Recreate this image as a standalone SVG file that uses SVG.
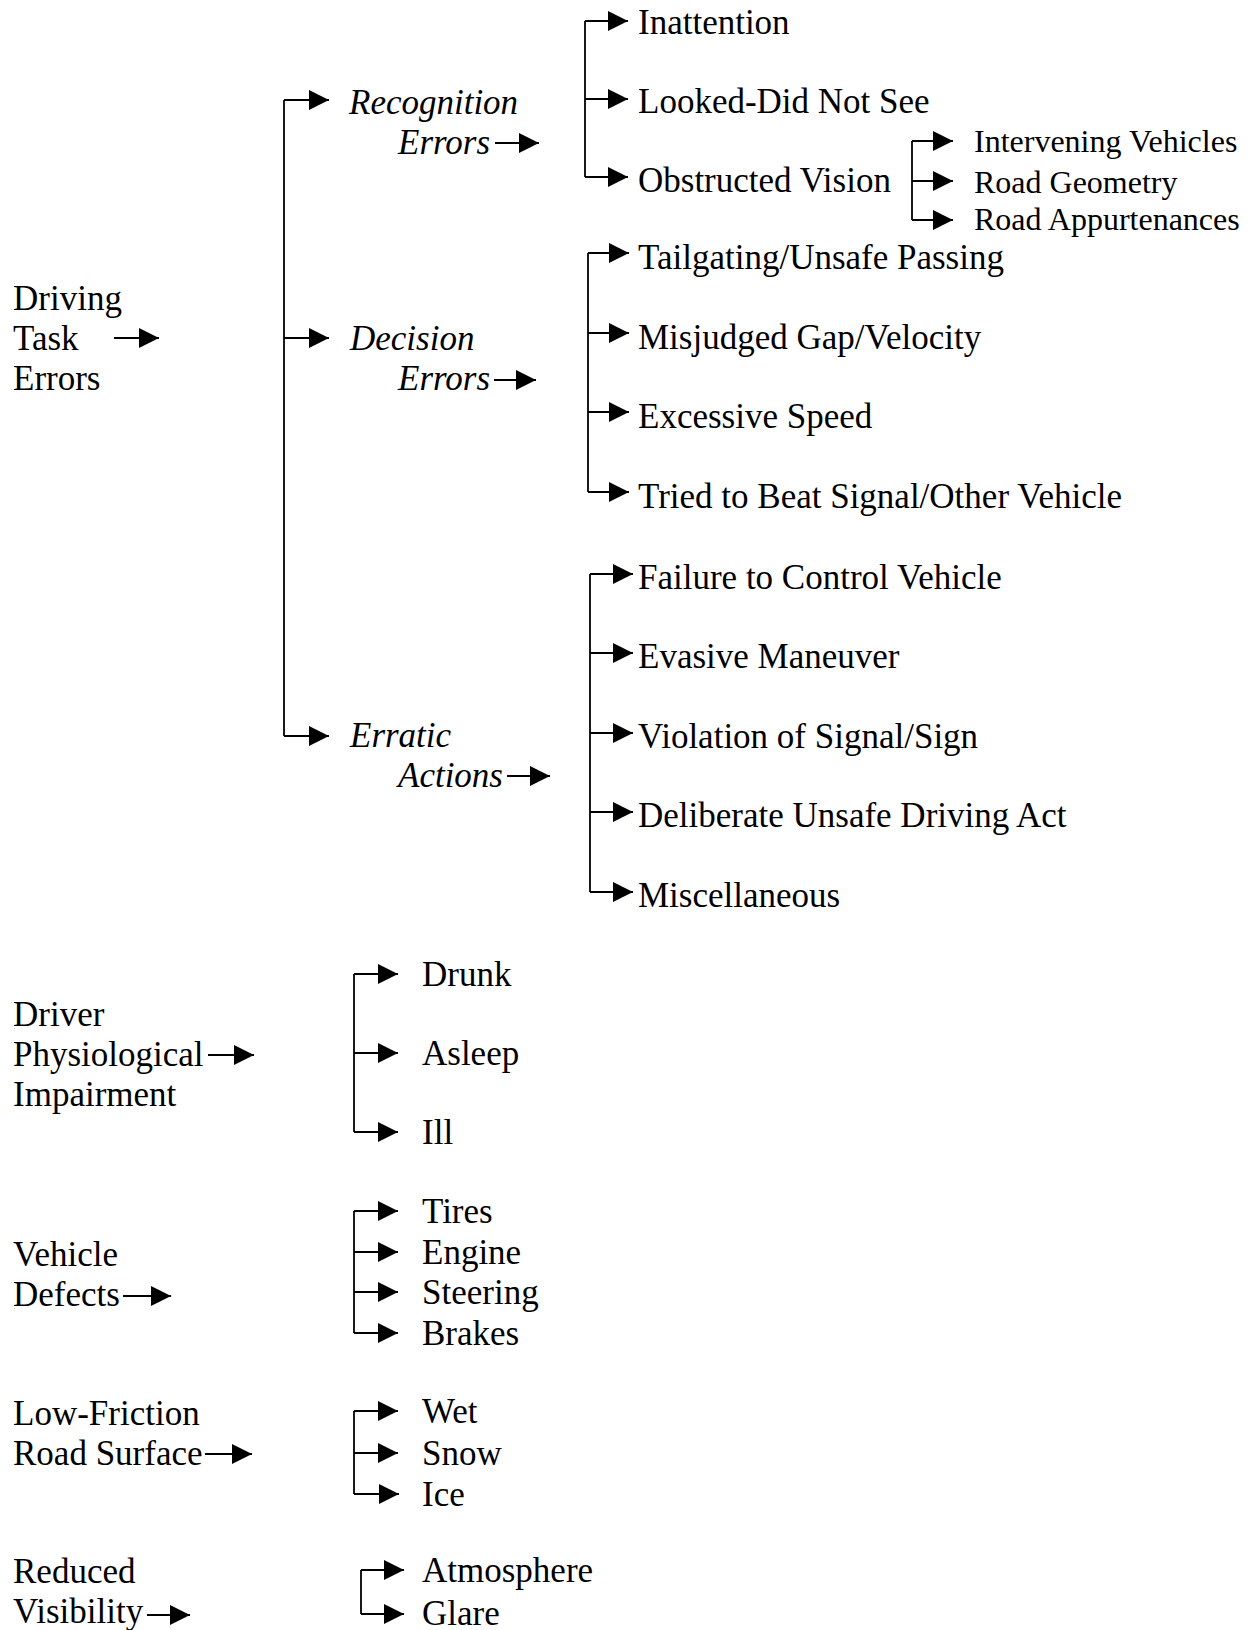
<svg xmlns="http://www.w3.org/2000/svg" width="1254" height="1630" viewBox="0 0 1254 1630">
<style>
text{font-family:"Liberation Serif","Times New Roman",serif;font-size:35px;fill:#000}
.it{font-style:italic}
.sm{font-size:32px}
.c line,.c path{stroke:#000;stroke-width:1.8;fill:none}
</style>
<defs>
<marker id="ah" markerUnits="userSpaceOnUse" markerWidth="21" markerHeight="22" refX="20" refY="11" orient="auto">
<path d="M0,1 L20,11 L0,21 Z" fill="#000"/>
</marker>
</defs>
<rect width="1254" height="1630" fill="#fff"/>
<g id="connectors" class="c">
<line x1="114" y1="338" x2="159" y2="338" marker-end="url(#ah)"/>
<line x1="208" y1="1055" x2="254" y2="1055" marker-end="url(#ah)"/>
<line x1="123" y1="1296" x2="171" y2="1296" marker-end="url(#ah)"/>
<line x1="205" y1="1454" x2="252" y2="1454" marker-end="url(#ah)"/>
<line x1="147" y1="1615" x2="190" y2="1615" marker-end="url(#ah)"/>
<path d="M284,100 V736"/>
<line x1="284" y1="100" x2="329" y2="100" marker-end="url(#ah)"/>
<line x1="284" y1="338" x2="329" y2="338" marker-end="url(#ah)"/>
<line x1="284" y1="736" x2="329" y2="736" marker-end="url(#ah)"/>
<line x1="495" y1="143" x2="539" y2="143" marker-end="url(#ah)"/>
<line x1="494" y1="380" x2="536" y2="380" marker-end="url(#ah)"/>
<line x1="507" y1="776" x2="550" y2="776" marker-end="url(#ah)"/>
<path d="M585,21 V177"/>
<line x1="585" y1="21" x2="628" y2="21" marker-end="url(#ah)"/>
<line x1="585" y1="99" x2="628" y2="99" marker-end="url(#ah)"/>
<line x1="585" y1="177" x2="628" y2="177" marker-end="url(#ah)"/>
<path d="M912,141 V220"/>
<line x1="912" y1="141" x2="953" y2="141" marker-end="url(#ah)"/>
<line x1="912" y1="181" x2="953" y2="181" marker-end="url(#ah)"/>
<line x1="912" y1="220" x2="953" y2="220" marker-end="url(#ah)"/>
<path d="M588,253 V492"/>
<line x1="588" y1="253" x2="629" y2="253" marker-end="url(#ah)"/>
<line x1="588" y1="333" x2="629" y2="333" marker-end="url(#ah)"/>
<line x1="588" y1="412" x2="629" y2="412" marker-end="url(#ah)"/>
<line x1="588" y1="492" x2="629" y2="492" marker-end="url(#ah)"/>
<path d="M590,574 V892"/>
<line x1="590" y1="574" x2="633" y2="574" marker-end="url(#ah)"/>
<line x1="590" y1="653" x2="633" y2="653" marker-end="url(#ah)"/>
<line x1="590" y1="733" x2="633" y2="733" marker-end="url(#ah)"/>
<line x1="590" y1="812" x2="633" y2="812" marker-end="url(#ah)"/>
<line x1="590" y1="892" x2="633" y2="892" marker-end="url(#ah)"/>
<path d="M354,974 V1132"/>
<line x1="354" y1="974" x2="398" y2="974" marker-end="url(#ah)"/>
<line x1="354" y1="1053" x2="398" y2="1053" marker-end="url(#ah)"/>
<line x1="354" y1="1132" x2="398" y2="1132" marker-end="url(#ah)"/>
<path d="M354,1211 V1333"/>
<line x1="354" y1="1211" x2="398" y2="1211" marker-end="url(#ah)"/>
<line x1="354" y1="1252" x2="398" y2="1252" marker-end="url(#ah)"/>
<line x1="354" y1="1292" x2="398" y2="1292" marker-end="url(#ah)"/>
<line x1="354" y1="1333" x2="398" y2="1333" marker-end="url(#ah)"/>
<path d="M354,1411 V1494"/>
<line x1="354" y1="1411" x2="398" y2="1411" marker-end="url(#ah)"/>
<line x1="354" y1="1453" x2="398" y2="1453" marker-end="url(#ah)"/>
<line x1="354" y1="1494" x2="399" y2="1494" marker-end="url(#ah)"/>
<path d="M361,1570 V1614"/>
<line x1="361" y1="1570" x2="404" y2="1570" marker-end="url(#ah)"/>
<line x1="361" y1="1614" x2="404" y2="1614" marker-end="url(#ah)"/>
</g>
<g id="n-driving"><text x="13" y="310">Driving</text><text x="13" y="350">Task</text><text x="13" y="390">Errors</text></g>
<g id="n-recognition"><text class="it" x="349" y="114">Recognition</text><text class="it" x="398" y="154">Errors</text></g>
<g id="n-decision"><text class="it" x="350" y="350">Decision</text><text class="it" x="398" y="390">Errors</text></g>
<g id="n-erratic"><text class="it" x="350" y="747">Erratic</text><text class="it" x="398" y="787">Actions</text></g>
<g id="n-inattention"><text x="638" y="34">Inattention</text></g>
<g id="n-looked"><text x="638" y="113">Looked-Did Not See</text></g>
<g id="n-obstructed"><text x="638" y="192">Obstructed Vision</text></g>
<g id="n-intervening"><text class="sm" x="974" y="152">Intervening Vehicles</text></g>
<g id="n-geometry"><text class="sm" x="974" y="193">Road Geometry</text></g>
<g id="n-appurtenances"><text class="sm" x="974" y="230">Road Appurtenances</text></g>
<g id="n-tailgating"><text x="638" y="269">Tailgating/Unsafe Passing</text></g>
<g id="n-misjudged"><text x="638" y="349">Misjudged Gap/Velocity</text></g>
<g id="n-excessive"><text x="638" y="428">Excessive Speed</text></g>
<g id="n-tried"><text x="638" y="508">Tried to Beat Signal/Other Vehicle</text></g>
<g id="n-failure"><text x="638" y="589">Failure to Control Vehicle</text></g>
<g id="n-evasive"><text x="638" y="668">Evasive Maneuver</text></g>
<g id="n-violation"><text x="638" y="748">Violation of Signal/Sign</text></g>
<g id="n-deliberate"><text x="638" y="827">Deliberate Unsafe Driving Act</text></g>
<g id="n-misc"><text x="638" y="907">Miscellaneous</text></g>
<g id="n-driver"><text x="13" y="1026">Driver</text><text x="13" y="1066">Physiological</text><text x="13" y="1106">Impairment</text></g>
<g id="n-drunk"><text x="422" y="986">Drunk</text></g>
<g id="n-asleep"><text x="422" y="1065">Asleep</text></g>
<g id="n-ill"><text x="422" y="1144">Ill</text></g>
<g id="n-vehicle"><text x="13" y="1266">Vehicle</text><text x="13" y="1306">Defects</text></g>
<g id="n-tires"><text x="422" y="1223">Tires</text></g>
<g id="n-engine"><text x="422" y="1264">Engine</text></g>
<g id="n-steering"><text x="422" y="1304">Steering</text></g>
<g id="n-brakes"><text x="422" y="1345">Brakes</text></g>
<g id="n-lowfriction"><text x="13" y="1425">Low-Friction</text><text x="13" y="1465">Road Surface</text></g>
<g id="n-wet"><text x="422" y="1423">Wet</text></g>
<g id="n-snow"><text x="422" y="1465">Snow</text></g>
<g id="n-ice"><text x="422" y="1506">Ice</text></g>
<g id="n-reduced"><text x="13" y="1583">Reduced</text><text x="13" y="1623">Visibility</text></g>
<g id="n-atmosphere"><text x="422" y="1582">Atmosphere</text></g>
<g id="n-glare"><text x="422" y="1625">Glare</text></g>
</svg>
